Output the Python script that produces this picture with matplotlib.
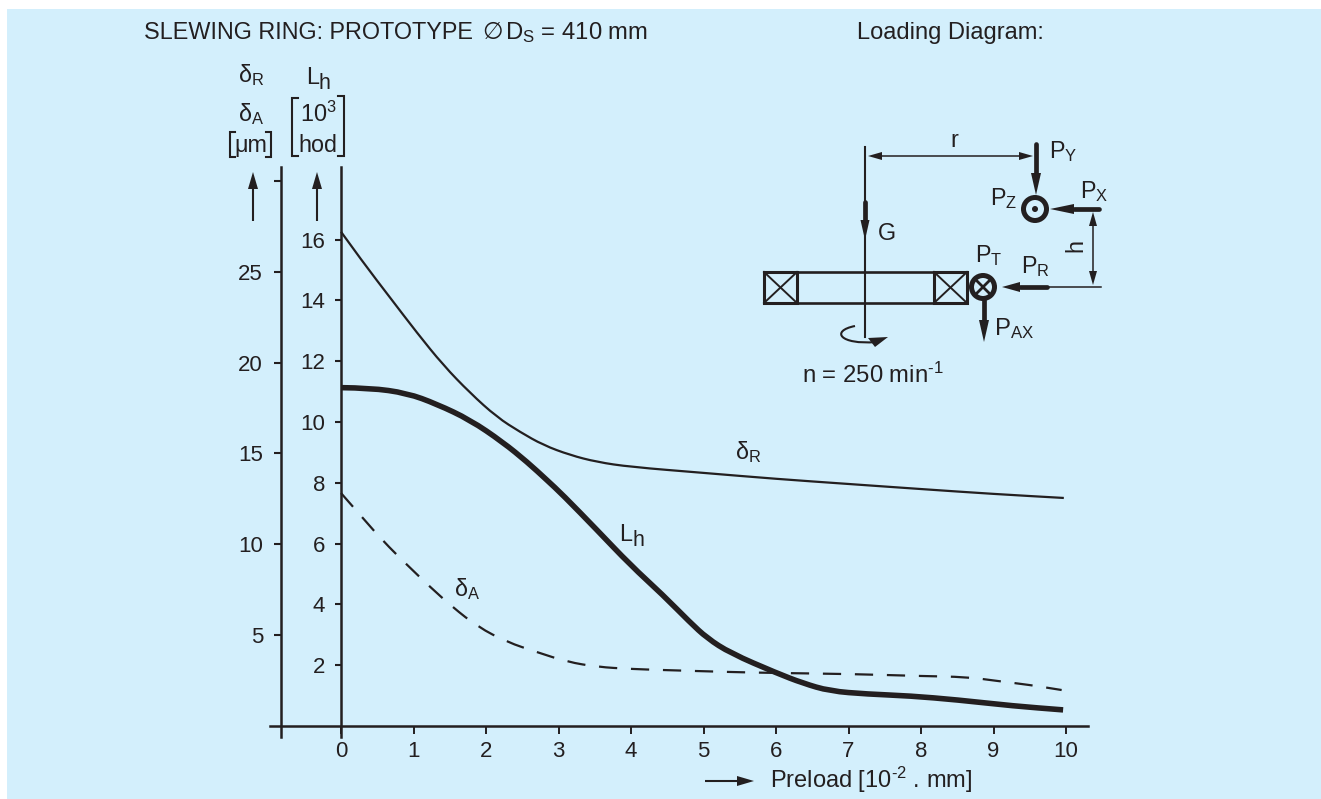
import matplotlib
matplotlib.use('Agg')
import matplotlib.pyplot as plt
from matplotlib.patches import Rectangle, Circle, PathPatch
from matplotlib.path import Path

plt.rcParams['font.family'] = ['Liberation Sans', 'DejaVu Sans']
plt.rcParams['mathtext.fontset'] = 'custom'
plt.rcParams['mathtext.rm'] = 'Liberation Sans'
plt.rcParams['mathtext.it'] = 'Liberation Sans'
plt.rcParams['mathtext.default'] = 'rm'

# curve values
delta_r_x = [0, 0.30, 0.68, 1.05, 1.41, 1.78, 2.15, 2.47, 2.79, 3.16, 3.53, 3.99, 5, 6, 7, 8, 9, 9.97]
delta_r_y = [27.20, 25.54, 23.56, 21.63, 19.86, 18.33, 17.00, 16.18, 15.46, 14.91, 14.53, 14.26,
             13.93, 13.60, 13.32, 13.04, 12.77, 12.55]

lh_x = [0, 0.40, 0.91, 1.32, 1.78, 2.23, 2.57, 2.84, 3.06, 3.53, 3.99, 4.44, 4.81, 5.05, 5.37,
        6.01, 6.37, 6.74, 7.26, 7.85, 8.50, 9.27, 9.96]
lh_y = [11.13, 11.12, 10.95, 10.59, 10.07, 9.34, 8.68, 8.09, 7.60, 6.45, 5.30, 4.31, 3.42, 2.89, 2.40,
        1.74, 1.41, 1.15, 1.05, 0.99, 0.86, 0.66, 0.53]

delta_a_x = [0, 0.30, 0.58, 0.91, 1.23, 1.54, 1.89, 2.29, 2.70, 3.12, 3.54, 3.99, 4.44, 5.37, 5.96,
             7.06, 7.99, 8.63, 9.05, 9.50, 9.94]
delta_a_y = [12.82, 11.45, 10.18, 8.87, 7.65, 6.54, 5.45, 4.62, 4.07, 3.53, 3.25, 3.14, 3.08, 2.97, 2.92,
             2.86, 2.75, 2.70, 2.48, 2.26, 1.98]

x_ticks = [0, 1, 2, 3, 4, 5, 6, 7, 8, 9, 10]
lh_ticks = [2, 4, 6, 8, 10, 12, 14, 16]
delta_ticks = [5, 10, 15, 20, 25, 30]
delta_tick_labels = ['5', '10', '15', '20', '25', '']

INK = '#231f20'
BLUE = '#d3effc'
W, H = 1321, 799
FS = 16.8
TICK_FS = 16

fig = plt.figure(figsize=(W / 100, H / 100), dpi=100, facecolor='white')

# panel + schematic layer, in pixels
bg = fig.add_axes([0, 0, 1, 1], zorder=0)
bg.set_xlim(0, W)
bg.set_ylim(H, 0)
bg.axis('off')
bg.add_patch(Rectangle((7, 9), W - 7, H - 9, color=BLUE, lw=0))

# main axes: x 0 at 341px, 72.5 px per unit, baseline at 726px
left, right, top, bottom = 270, 1088, 167, 737
ax = fig.add_axes([left / W, 1 - bottom / H, (right - left) / W, (bottom - top) / H], zorder=1)
ax.patch.set_alpha(0)
ax.set_xlim((left - 341) / 72.5, (right - 341) / 72.5)
ax.set_ylim(-(bottom - 726) / 30.4, (726 - top) / 30.4)

ax2 = ax.twinx()
ax2.patch.set_alpha(0)
ax2.set_ylim(-(bottom - 726) / 18.17, (726 - top) / 18.17)

for s in ['top', 'right']:
    ax.spines[s].set_visible(False)
for s in ['top', 'right', 'bottom']:
    ax2.spines[s].set_visible(False)
ax.spines['left'].set_position(('data', 0))
ax.spines['bottom'].set_position(('data', 0))
ax2.spines['left'].set_visible(True)
ax2.spines['left'].set_position(('data', -60 / 72.5))
for s in [ax.spines['left'], ax.spines['bottom'], ax2.spines['left']]:
    s.set_linewidth(1.8)
    s.set_color(INK)

ax.set_xticks(x_ticks)
ax.set_yticks(lh_ticks)
ax.tick_params(axis='x', length=5.5, width=1.4, color=INK, labelcolor=INK, labelsize=TICK_FS, pad=5)
ax.tick_params(axis='y', length=4.5, width=1.5, color=INK, labelcolor=INK, labelsize=TICK_FS, pad=7)
ax2.yaxis.tick_left()
ax2.set_yticks(delta_ticks)
ax2.set_yticklabels(delta_tick_labels)
ax2.tick_params(axis='y', length=5, width=1.5, color=INK, labelcolor=INK, labelsize=TICK_FS, pad=8)


def curve(axis, xs, ys, **kw):
    # quadratic segments through the midpoints so the read points give a smooth stroke
    verts = [(xs[0], ys[0])]
    codes = [Path.MOVETO]
    for i in range(1, len(xs) - 1):
        verts += [(xs[i], ys[i]), ((xs[i] + xs[i + 1]) / 2, (ys[i] + ys[i + 1]) / 2)]
        codes += [Path.CURVE3, Path.CURVE3]
    verts.append((xs[-1], ys[-1]))
    codes.append(Path.LINETO)
    axis.add_patch(PathPatch(Path(verts, codes), fill=False, ec=INK, **kw))


curve(ax, lh_x, lh_y, lw=4.0, capstyle='butt', joinstyle='round')
curve(ax2, delta_r_x, delta_r_y, lw=1.6, joinstyle='round')
curve(ax2, delta_a_x, delta_a_y, lw=1.6, linestyle=(0, (8.2, 6.2)), joinstyle='round')


def txt(x, y, s, size=FS, ha='left', **kw):
    bg.text(x, y, s, fontsize=size, ha=ha, va='baseline', color=INK, **kw)


def arrow(x0, y0, x1, y1, hl=16, hw=10, lw=1.6):
    # line from (x0,y0) with a filled head ending at (x1,y1)
    dx, dy = x1 - x0, y1 - y0
    n = (dx ** 2 + dy ** 2) ** 0.5
    ux, uy = dx / n, dy / n
    bx, by = x1 - ux * hl, y1 - uy * hl
    bg.plot([x0, bx], [y0, by], color=INK, lw=lw, solid_capstyle='round' if lw > 2 else 'butt')
    bg.fill([x1, bx - uy * hw / 2, bx + uy * hw / 2], [y1, by + ux * hw / 2, by - ux * hw / 2], color=INK, lw=0)


# headers
txt(144, 39, 'SLEWING RING: PROTOTYPE')
bg.text(482, 39, '\u2205', fontsize=17, family='DejaVu Sans', color=INK, va='baseline')
txt(505, 39, r'D$_{\mathrm{S}}$ = 410 mm', size=17.2)
txt(857, 39, 'Loading Diagram:', size=17)

txt(251, 82, r'$\mathrm{\delta_R}$', ha='center')
txt(306, 84, 'L')
txt(319, 89, 'h', size=15.5)
txt(251, 121, r'$\mathrm{\delta_A}$', ha='center')
txt(251, 152, '\u03bcm', ha='center')
txt(318, 122, r'10$^{3}$', ha='center')
txt(318, 152, 'hod', ha='center')

# unit brackets
for pts in [([235, 230, 230, 235], [132, 132, 157, 157]), ([266, 271, 271, 266], [132, 132, 157, 157]),
            ([298, 292, 292, 298], [98, 98, 156, 156]), ([338, 344, 344, 338], [96, 96, 156, 156])]:
    bg.plot(pts[0], pts[1], color=INK, lw=1.5, solid_joinstyle='miter')

# axis arrows
arrow(253, 221, 253, 172, hl=17, hw=10, lw=1.5)
arrow(317, 221, 317, 172, hl=17, hw=10, lw=1.5)
arrow(705, 781, 754, 781, hl=17, hw=10, lw=1.5)
txt(770, 788, r'Preload [10$^{\text{-2}}$ . mm]', size=17)

# curve labels
txt(735, 459, r'$\mathrm{\delta_R}$')
txt(619, 541, 'L')
txt(632, 546, 'h', size=15.5)
txt(454, 596, r'$\mathrm{\delta_A}$')

# loading diagram
bg.plot([865, 865], [147, 337], color=INK, lw=1.5)
arrow(865, 202, 865, 240, hl=20, hw=9, lw=3.4)

# r dimension
arrow(950, 156, 868, 156, hl=14, hw=8, lw=1.1)
arrow(950, 156, 1033, 156, hl=14, hw=8, lw=1.1)
txt(954, 147, 'r', ha='center')
# h dimension
arrow(1093, 250, 1093, 212, hl=14, hw=8, lw=1.1)
arrow(1093, 250, 1093, 285, hl=14, hw=8, lw=1.1)
bg.text(1076, 245, 'h', fontsize=FS, rotation=90, ha='center', va='center', color=INK)

# ring section
bg.add_patch(Rectangle((764, 272), 203, 31, fill=False, ec=INK, lw=1.9))
for x0, x1 in [(764, 797), (934, 967)]:
    bg.add_patch(Rectangle((x0, 272), x1 - x0, 31, fill=False, ec=INK, lw=2.2))
    bg.plot([x0, x1], [272, 303], color=INK, lw=1.4)
    bg.plot([x0, x1], [303, 272], color=INK, lw=1.4)

# P forces
arrow(1036, 144, 1036, 195, hl=22, hw=10, lw=3.4)
arrow(1099, 209, 1050, 209, hl=24, hw=10, lw=3.4)
arrow(1047, 287, 1002, 287, hl=18, hw=10, lw=3.4)
bg.plot([1047, 1101], [287, 287], color=INK, lw=1.1)
arrow(984, 300, 984, 342, hl=22, hw=10, lw=3.4)

bg.add_patch(Circle((1035, 209), 11.5, fill=False, ec=INK, lw=3.6))
bg.add_patch(Circle((1035, 209), 3, color=INK, lw=0))
bg.add_patch(Circle((983, 287), 11.5, fill=False, ec=INK, lw=3.6))
bg.plot([976, 990], [280, 294], color=INK, lw=2)
bg.plot([976, 990], [294, 280], color=INK, lw=2)

txt(1049, 158, r'P$_{\mathrm{Y}}$')
txt(990, 205, r'P$_{\mathrm{Z}}$')
txt(1080, 198, r'P$_{\mathrm{X}}$')
txt(878, 240, 'G')
txt(975, 262, r'P$_{\mathrm{T}}$')
txt(1021, 273, r'P$_{\mathrm{R}}$')
txt(994, 335, r'P$_{\mathrm{AX}}$', size=17.2)

# rotation arrow
rot = Path([(855, 326), (830, 331), (840, 345), (876, 342)], [Path.MOVETO, Path.CURVE4, Path.CURVE4, Path.CURVE4])
bg.add_patch(PathPatch(rot, fill=False, ec=INK, lw=1.5))
bg.fill([888, 868, 875], [337, 338, 347], color=INK, lw=0)
txt(802, 383, r'n = 250 min$^{\text{-1}}$', size=17.2)

fig.savefig('out.png', dpi=100)
